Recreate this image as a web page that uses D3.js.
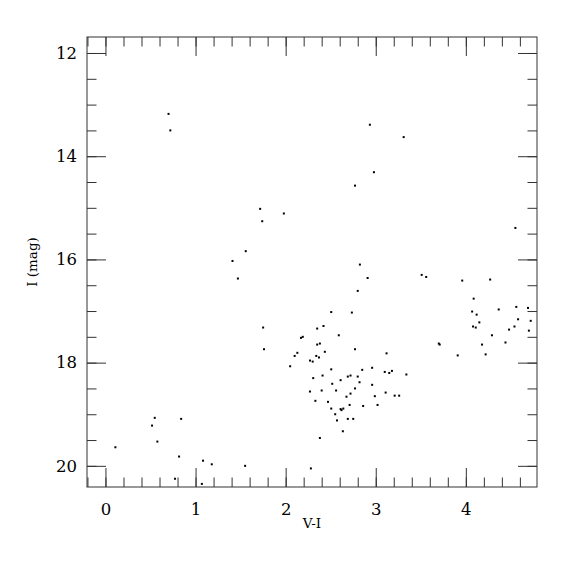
<!DOCTYPE html>
<meta charset="utf-8">
<style>
body { margin: 0; background: #fff; }
.axis path { display: none; }
.axis line { stroke: #333; stroke-width: 1; }
.axis text { font-family: "DejaVu Serif", serif; font-size: 16.5px; fill: #000; }
.lbl { font-family: "DejaVu Serif", serif; font-size: 13.5px; fill: #000; }
</style>
<svg width="575" height="575"></svg>
<script src="https://d3js.org/d3.v7.min.js"></script>
<script>
// colour (V-I) and magnitude (I) of each star
var vi = [0.70, 0.72, 2.935, 3.31, 2.98, 2.77, 1.717, 1.74, 1.98, 4.55,
  1.557, 1.41, 1.47, 1.75, 1.76, 0.547, 0.84, 2.824, 2.91, 2.80,
  3.51, 3.56, 3.96, 4.27, 4.087, 4.365, 4.56, 4.69, 4.07, 4.12,
  4.58, 4.72, 4.15, 4.08, 4.11, 4.48, 4.54, 4.70, 4.29, 4.18,
  4.44, 4.22, 3.91, 3.70, 3.71, 2.506, 2.735, 2.35, 2.42, 2.17,
  2.19, 2.59, 2.35, 2.38, 2.77, 2.13, 2.10, 2.34, 2.37, 2.435,
  3.12, 2.05, 2.27, 2.30, 2.506, 2.306, 2.41, 2.517, 2.61, 2.69,
  2.72, 2.80, 2.85, 2.82, 2.96, 2.96, 3.10, 3.15, 3.18, 3.34,
  2.27, 2.40, 2.56, 2.77, 2.72, 2.675, 2.99, 3.11, 3.21, 3.26,
  2.33, 2.47, 2.71, 2.86, 3.02, 2.506, 2.61, 2.62, 2.64, 2.55,
  2.69, 2.75, 2.57, 2.635, 2.38, 2.28, 0.11, 0.517, 0.576, 0.817,
  0.772, 1.07, 1.083, 1.18, 1.55];
var imag = [13.18, 13.50, 13.39, 13.63, 14.31, 14.57, 15.02, 15.26, 15.11, 15.39,
  15.84, 16.03, 16.37, 17.32, 17.74, 19.07, 19.09, 16.10, 16.36, 16.61,
  16.30, 16.34, 16.41, 16.39, 16.76, 16.97, 16.92, 16.94, 17.01, 17.07,
  17.16, 17.19, 17.22, 17.30, 17.32, 17.36, 17.30, 17.38, 17.47, 17.65,
  17.61, 17.84, 17.86, 17.63, 17.65, 17.02, 17.03, 17.34, 17.29, 17.52,
  17.50, 17.47, 17.65, 17.63, 17.74, 17.81, 17.87, 17.87, 17.90, 17.79,
  17.82, 18.07, 17.96, 17.98, 18.13, 18.30, 18.25, 18.41, 18.34, 18.27,
  18.25, 18.27, 18.14, 18.38, 18.10, 18.43, 18.18, 18.20, 18.16, 18.23,
  18.56, 18.54, 18.54, 18.50, 18.60, 18.66, 18.65, 18.58, 18.64, 18.64,
  18.74, 18.76, 18.82, 18.84, 18.82, 18.89, 18.90, 18.92, 18.89, 19.00,
  19.09, 19.09, 19.12, 19.33, 19.46, 20.05, 19.64, 19.22, 19.53, 19.82,
  20.25, 20.35, 19.90, 19.97, 20.00];

var xTicks = [0, 1, 2, 3, 4];
var yTicks = [12, 14, 16, 18, 20];
var xMinor = d3.range(-0.2, 4.8, 0.2).map(function(v) { return +v.toFixed(1); });
var yMinor = d3.range(12, 20.5, 0.5);

var svg = d3.select("svg");
var L = 87, R = 537, T = 37, B = 487;

var x = d3.scaleLinear().domain([-0.205, 4.79]).range([L, R]);
var y = d3.scaleLinear().domain([11.69, 20.41]).range([T, B]);

// frame
svg.append("rect")
  .attr("x", L).attr("y", T).attr("width", R - L).attr("height", B - T)
  .attr("fill", "none").attr("stroke", "#333").attr("stroke-width", 1);

function ticksOnly(axis, vals, size) {
  return axis.tickValues(vals).tickSize(-size).tickFormat("");
}

// minor ticks on all four sides
svg.append("g").attr("class", "axis").attr("transform", "translate(0," + B + ")")
  .call(ticksOnly(d3.axisBottom(x), xMinor, 9.5));
svg.append("g").attr("class", "axis").attr("transform", "translate(0," + T + ")")
  .call(ticksOnly(d3.axisTop(x), xMinor, 9.5));
svg.append("g").attr("class", "axis").attr("transform", "translate(" + L + ",0)")
  .call(ticksOnly(d3.axisLeft(y), yMinor, 9.5));
svg.append("g").attr("class", "axis").attr("transform", "translate(" + R + ",0)")
  .call(ticksOnly(d3.axisRight(y), yMinor, 9.5));

// major ticks
svg.append("g").attr("class", "axis").attr("transform", "translate(0," + B + ")")
  .call(d3.axisBottom(x).tickValues(xTicks).tickSize(-19).tickPadding(16).tickFormat(d3.format("d")));
svg.append("g").attr("class", "axis").attr("transform", "translate(0," + T + ")")
  .call(ticksOnly(d3.axisTop(x), xTicks, 19));
svg.append("g").attr("class", "axis").attr("transform", "translate(" + L + ",0)")
  .call(d3.axisLeft(y).tickValues(yTicks).tickSize(-19).tickPadding(10).tickFormat(d3.format("d")));
svg.append("g").attr("class", "axis").attr("transform", "translate(" + R + ",0)")
  .call(ticksOnly(d3.axisRight(y), yTicks, 19));

// axis titles
svg.append("text").attr("class", "lbl")
  .attr("x", (L + R) / 2).attr("y", 528)
  .attr("text-anchor", "middle").text("V-I");
svg.append("text").attr("class", "lbl")
  .attr("transform", "translate(37,262) rotate(-90)")
  .attr("text-anchor", "middle").text("I (mag)");

// stars
svg.append("g").selectAll("rect")
  .data(d3.zip(vi, imag))
  .enter().append("rect")
  .attr("x", function(d) { return x(d[0]) - 1; })
  .attr("y", function(d) { return y(d[1]) - 1; })
  .attr("width", 2).attr("height", 2)
  .attr("fill", "#000");
</script>
